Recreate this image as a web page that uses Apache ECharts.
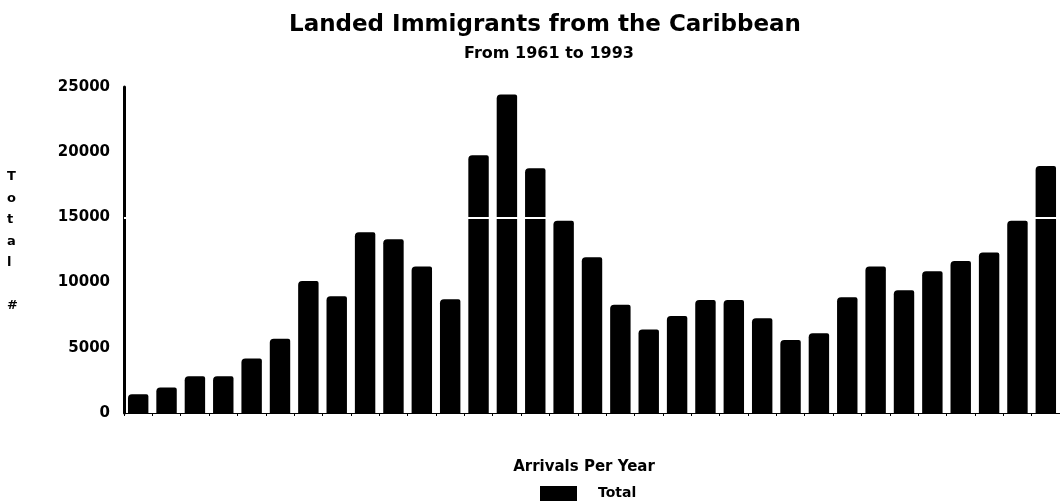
<!DOCTYPE html>
<html>
<head>
<meta charset="utf-8">
<script src="https://cdn.jsdelivr.net/npm/echarts@6/dist/echarts.min.js"></script>
<style>
html,body{margin:0;padding:0;background:#fff;}
#chart{width:1060px;height:504px;}
</style>
</head>
<body>
<div id="chart"></div>
<script>
const years = ['1961','1962','1963','1964','1965','1966','1967','1968','1969','1970','1971','1972','1973','1974','1975','1976','1977','1978','1979','1980','1981','1982','1983','1984','1985','1986','1987','1988','1989','1990','1991','1992','1993'];
const totals = [1430,1950,2810,2810,4170,5700,10120,8950,13860,13320,11230,8720,19760,24420,18770,14750,11940,8310,6400,7440,8670,8670,7260,5600,6110,8870,11230,9410,10870,11660,12300,14750,18940];
const yTicks = [0,5000,10000,15000,20000,25000];
const titleText = 'Landed Immigrants from the Caribbean';
const subtitleText = 'From 1961 to 1993';
const xName = 'Arrivals Per Year';
const yNameText = 'T\no\nt\na\nl\n\n#';
const seriesName = 'Total';

const FONT = 'DejaVu Sans';
const chart = echarts.init(document.getElementById('chart'));
chart.setOption({
  backgroundColor: '#ffffff',
  animation: false,
  title: [
    {text: titleText, left: 540, top: 9, textAlign: 'center',
     textStyle: {fontFamily: FONT, fontWeight: 'bold', fontSize: 23, color: '#000'}},
    {text: subtitleText, left: 544, top: 41, textAlign: 'center',
     textStyle: {fontFamily: FONT, fontWeight: 'bold', fontSize: 16, color: '#000'}}
  ],
  legend: {
    data: [seriesName], left: 540, top: 486, padding: 0, itemWidth: 37, itemHeight: 15,
    icon: 'rect',
    textStyle: {fontFamily: FONT, fontWeight: 'bold', fontSize: 14, color: '#000', padding: [0,0,0,16]}
  },
  graphic: [{
    type: 'text', left: 7, top: 166,
    style: {text: yNameText, fontFamily: FONT, fontWeight: 'bold', fontSize: 13, lineHeight: 21.5, fill: '#000', align: 'center'}
  }],
  grid: {left: 124, right: -8, top: 87, bottom: 91, containLabel: false},
  xAxis: {
    type: 'category', data: years, offset: 3,
    name: xName, nameLocation: 'middle', nameGap: 44,
    nameTextStyle: {fontFamily: FONT, fontWeight: 'bold', fontSize: 15, color: '#000', padding: [0,16,0,0]},
    axisLine: {lineStyle: {color: '#000', width: 1}},
    axisTick: {show: true, interval: 0, length: 3, lineStyle: {color: '#000'}},
    axisLabel: {show: false, interval: 0}
  },
  yAxis: {
    type: 'value', min: 0, max: 25000, interval: 5000,
    axisLine: {show: true, lineStyle: {color: '#000', width: 3}},
    axisTick: {show: false},
    splitLine: {show: false},
    axisLabel: {fontFamily: FONT, fontWeight: 'bold', fontSize: 15, color: '#000', margin: 14,
      formatter: function (v) { return yTicks.indexOf(v) >= 0 ? String(v) : ''; }}
  },
  series: [{
    name: seriesName, type: 'bar', data: totals, barCategoryGap: '28%',
    itemStyle: {color: '#000', borderRadius: [4, 2, 0, 0]},
    markLine: {
      silent: true, symbol: 'none', label: {show: false},
      lineStyle: {color: '#fff', width: 2, type: 'solid'},
      data: [{yAxis: 15000}]
    }
  }]
});
</script>
</body>
</html>
